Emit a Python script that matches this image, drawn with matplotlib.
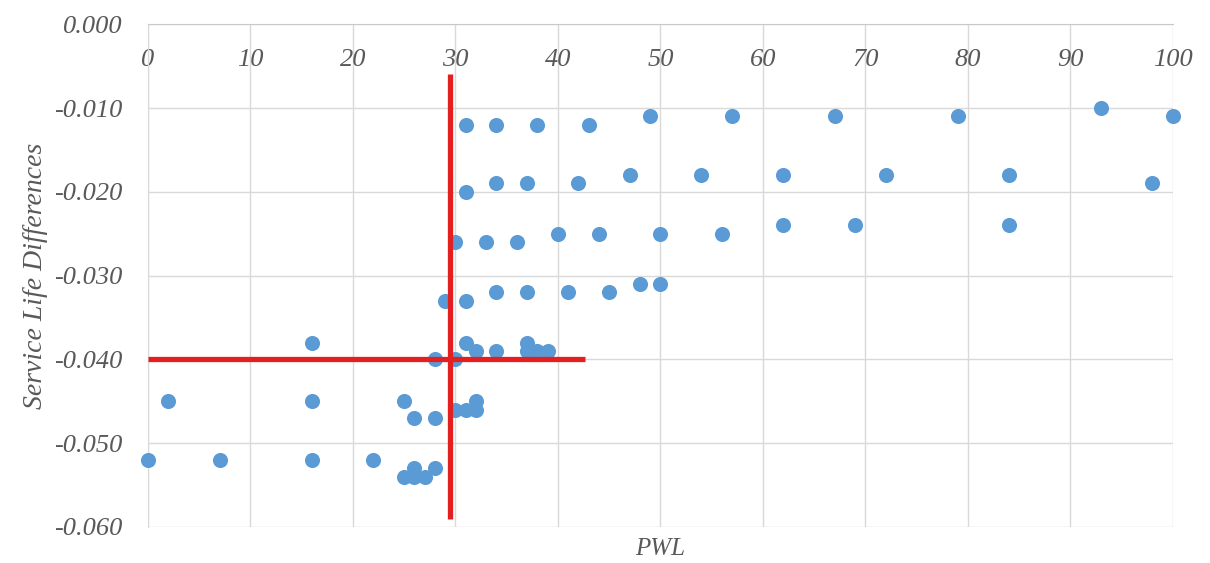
import numpy as np
import matplotlib.pyplot as plt

# PWL values and service life differences, grouped by row in the chart
pwl = [31, 34, 38, 43,
       49, 57, 67, 79, 100,
       93,
       47, 54, 62, 72, 84,
       34, 37, 42, 98,
       31,
       40, 44, 50, 56,
       62, 69, 84,
       30, 33, 36,
       34, 37, 41, 45,
       48, 50,
       29, 31,
       16, 31, 37,
       32, 34, 37, 38, 39,
       28, 30,
       2, 16, 25, 32,
       30, 31, 32,
       26, 28,
       0, 7, 16, 22,
       26, 28,
       25, 26, 27]
sld = [-0.012]*4 + [-0.011]*5 + [-0.010] + [-0.018]*5 + [-0.019]*4 + [-0.020] \
    + [-0.025]*4 + [-0.024]*3 + [-0.026]*3 + [-0.032]*4 + [-0.031]*2 + [-0.033]*2 \
    + [-0.038]*3 + [-0.039]*5 + [-0.040]*2 + [-0.045]*4 + [-0.046]*3 + [-0.047]*2 \
    + [-0.052]*4 + [-0.053]*2 + [-0.054]*3

# threshold lines
vline_x = 29.5
vline_y = [-0.006, -0.059]
hline_y = -0.040
hline_x = [0, 42.6]

xticks = np.arange(0, 101, 10)
yticks = [0.0, -0.01, -0.02, -0.03, -0.04, -0.05, -0.06]
ylabels = ["0.000", "-0.010", "-0.020", "-0.030", "-0.040", "-0.050", "-0.060"]

gray = "#595959"
plt.rcParams['font.family'] = ['Liberation Serif', 'DejaVu Serif']

fig = plt.figure(figsize=(12.1, 5.63), dpi=100)
ax = fig.add_axes([0.1223, 0.064, 0.8471, 0.893])

ax.scatter(pwl, sld, s=118, color="#5B9BD5", zorder=3, linewidths=0, clip_on=False)
ax.plot([vline_x, vline_x], vline_y, color="#E3201F", lw=3.8, zorder=4, solid_capstyle="butt")
ax.plot(hline_x, [hline_y, hline_y], color="#E3201F", lw=3.8, zorder=4, solid_capstyle="butt")

ax.set_xlim(0, 100)
ax.set_ylim(-0.06, 0.0)
ax.set_xticks(xticks)
ax.set_yticks(yticks)
ax.set_yticklabels(ylabels)
ax.grid(True, color="#D9D9D9", lw=1)
ax.set_axisbelow(True)

for s in ["right", "bottom"]:
    ax.spines[s].set_visible(False)
ax.spines["top"].set_color("#C9C9C9")
ax.spines["left"].set_color("#D9D9D9")

ax.tick_params(axis="x", top=False, bottom=False, labeltop=True, labelbottom=False,
               pad=-37, labelsize=19, labelcolor=gray)
ax.tick_params(axis="y", left=False, pad=15, labelsize=19, labelcolor=gray)
for lab in ax.get_xticklabels() + ax.get_yticklabels():
    lab.set_fontstyle("italic")

ax.set_xlabel("PWL", fontsize=18, color=gray, style="italic", labelpad=8)
ax.xaxis.set_label_position("bottom")
ax.set_ylabel("Service Life Differences", fontsize=20, color=gray, style="italic", labelpad=4)

plt.savefig("out.png", dpi=100)
